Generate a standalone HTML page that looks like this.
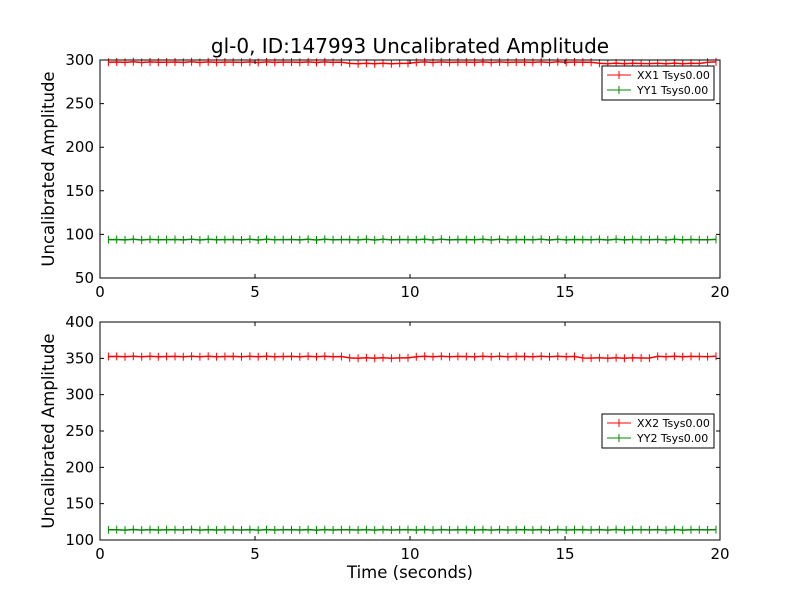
<!DOCTYPE html>
<html><head><meta charset="utf-8"><style>
html,body{margin:0;padding:0;background:#fff;}
text{font-family:"DejaVu Sans","Liberation Sans",sans-serif;}
</style></head><body>
<svg id="s" width="800" height="600" xmlns="http://www.w3.org/2000/svg">
<rect width="800" height="600" fill="#fff"/>
<text x="410" y="53" font-size="20" text-anchor="middle">gl-0, ID:147993 Uncalibrated Amplitude</text>
<g id="g"></g>
<text x="410" y="578" font-size="16.5" text-anchor="middle">Time (seconds)</text>
<text transform="translate(54,169) rotate(-90)" font-size="16.5" text-anchor="middle">Uncalibrated Amplitude</text>
<text transform="translate(54,431) rotate(-90)" font-size="16.5" text-anchor="middle">Uncalibrated Amplitude</text>
</svg>
<script>
const g=document.getElementById('g');let h='';
const L=100,R=720,W=620;
function panel(top,bot,ymin,ymax,yt,ser,legY,legs){
  const py=v=>bot-(v-ymin)/(ymax-ymin)*(bot-top), px=t=>L+t/20*W;
  for(const s of ser){
    let pts=[],mk='';
    for(let i=0;i<74;i++){const t=0.27+i*19.6/73;const v=s.f(t)+0.4*Math.sin(i*2.7);pts.push(px(t).toFixed(1)+','+py(v).toFixed(1));
      mk+=`M${px(t).toFixed(1)},${(py(v)-4).toFixed(1)}v8`;}
    h+=`<polyline points="${pts.join(' ')}" fill="none" stroke="${s.c}" stroke-width="1.5"/><path d="${mk}" stroke="${s.c}" stroke-width="1"/>`;
  }
  h+=`<rect x="${L}" y="${top}" width="${W}" height="${bot-top}" fill="none" stroke="#000" stroke-width="1"/>`;
  for(let t=0;t<=20;t+=5){const x=px(t);h+=`<path d="M${x},${bot}v-4M${x},${top}v4" stroke="#000"/><text x="${x}" y="${bot+19}" font-size="15" text-anchor="middle">${t}</text>`;}
  for(const v of yt){const y=py(v);h+=`<path d="M${L},${y}h4M${R},${y}h-4" stroke="#000"/><text x="${L-6}" y="${y+5}" font-size="15" text-anchor="end">${v}</text>`;}
  h+=`<rect x="602" y="${legY}" width="112" height="34" fill="#fff" stroke="#000"/>`;
  legs.forEach((l,i)=>{const y=legY+9+i*15;h+=`<path d="M607,${y}h24M619,${y-4}v8" stroke="${l[1]}"/><text x="637" y="${y+4}" font-size="11">${l[0]}</text>`;});
}
panel(60,278,50,300,[50,100,150,200,250,300],[
 {c:'#f00',f:t=>297.5-((t>7.8&&t<10.2)||(t>16&&t<19.5)?1.5:0)},
 {c:'#080',f:t=>94}],66,[['XX1 Tsys0.00','#f00'],['YY1 Tsys0.00','#080']]);
panel(322,540,100,400,[100,150,200,250,300,350,400],[
 {c:'#f00',f:t=>352.5-((t>7.8&&t<10)||(t>15.5&&t<17.8)?2:0)},
 {c:'#080',f:t=>114}],414,[['XX2 Tsys0.00','#f00'],['YY2 Tsys0.00','#080']]);
g.innerHTML=h;
</script>
</body></html>
